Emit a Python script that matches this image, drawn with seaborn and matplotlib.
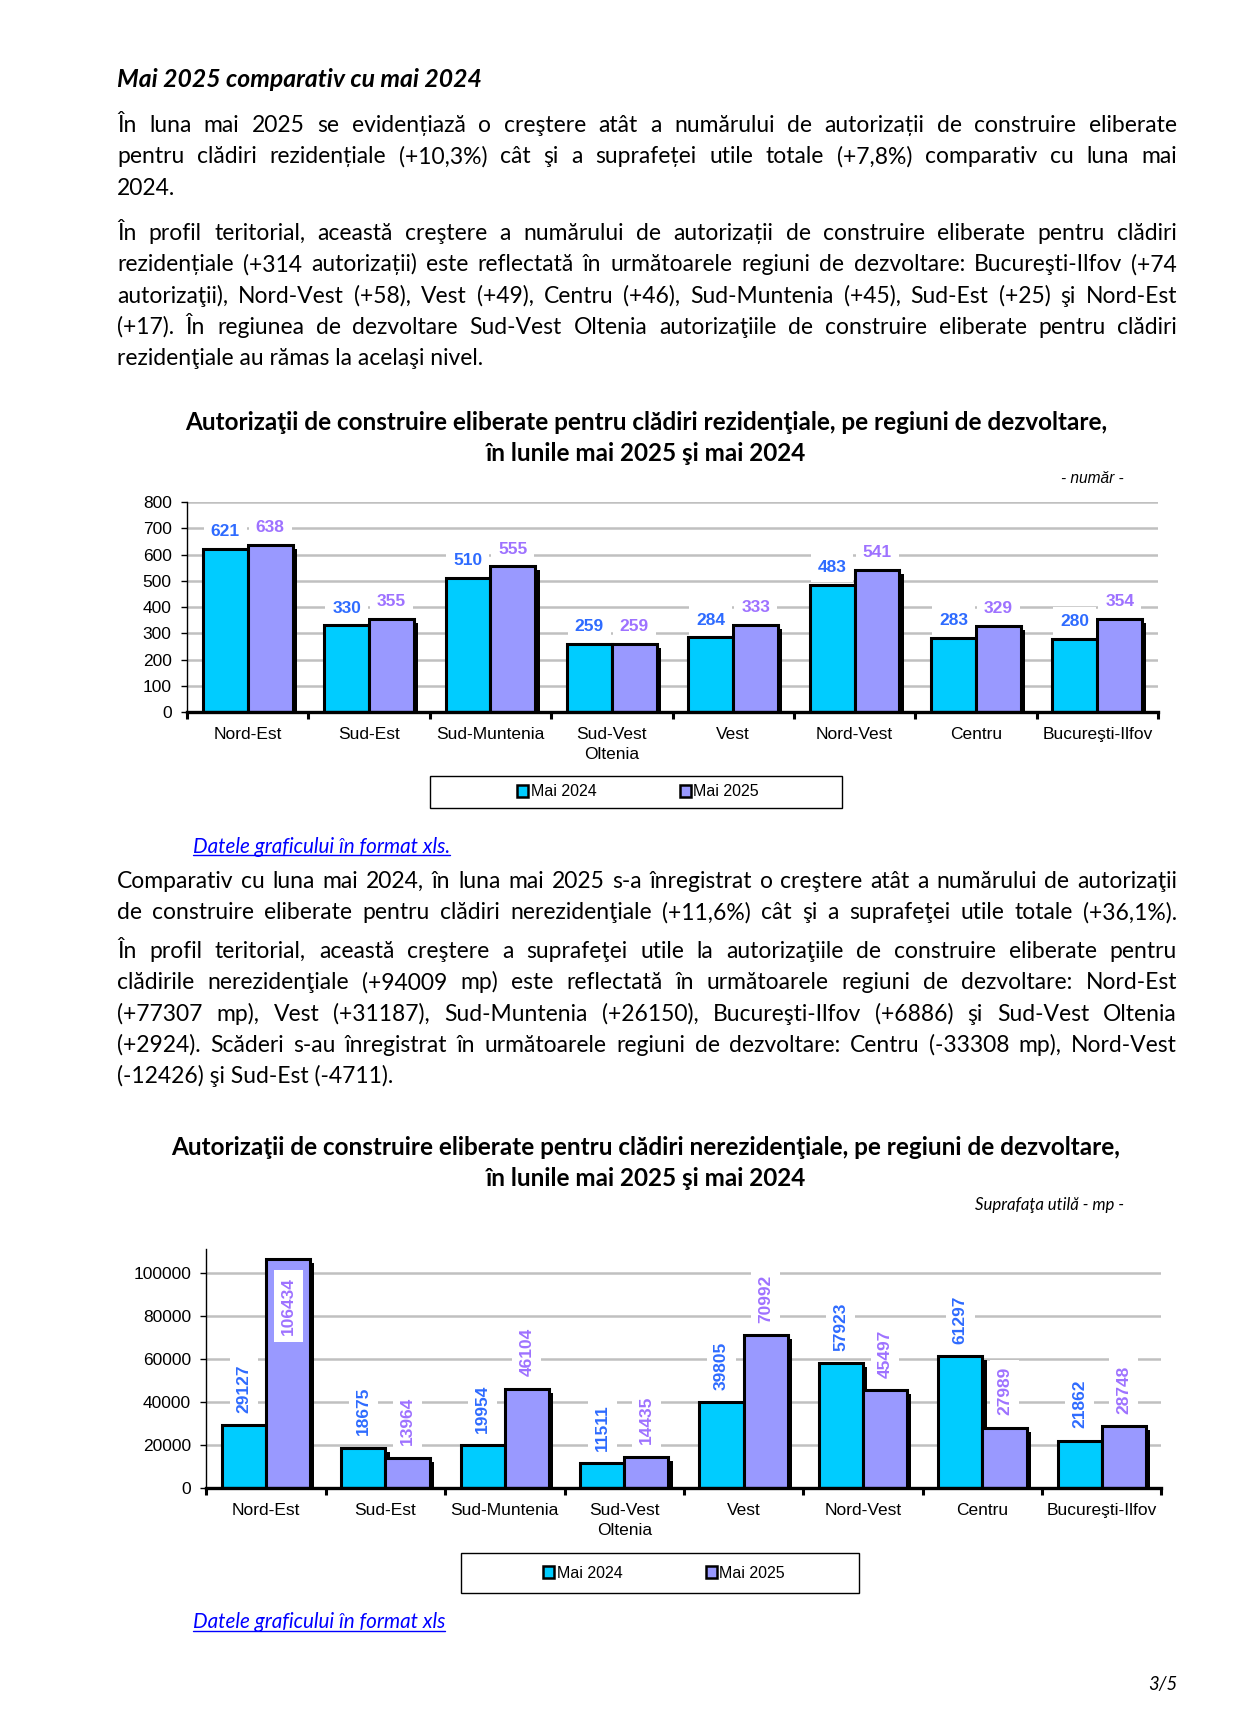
import numpy as np
import pandas as pd
import matplotlib
matplotlib.use("Agg")
import matplotlib.pyplot as plt
import matplotlib.patheffects as pe
from matplotlib.patches import Patch, Rectangle
from matplotlib.lines import Line2D
import seaborn as sns

# date grafice
regiuni = ["Nord-Est", "Sud-Est", "Sud-Muntenia", "Sud-Vest\nOltenia", "Vest",
           "Nord-Vest", "Centru", "Bucureşti-Ilfov"]
ani = ["Mai 2024", "Mai 2025"]
rez_2024 = [621, 330, 510, 259, 284, 483, 283, 280]
rez_2025 = [638, 355, 555, 259, 333, 541, 329, 354]
nerez_2024 = [29127, 18675, 19954, 11511, 39805, 57923, 61297, 21862]
nerez_2025 = [106434, 13964, 46104, 14435, 70992, 45497, 27989, 28748]

culori = ["#00CCFF", "#9999FF"]
culori_etichete = ["#2E6BFF", "#9E72FF"]

# text pagina
heading = "Mai 2025 comparativ cu mai 2024"
para1 = ["În luna mai 2025 se evidențiază o creştere atât a numărului de autorizații de construire eliberate",
         "pentru clădiri rezidențiale (+10,3%) cât şi a suprafeței utile totale (+7,8%)  comparativ cu luna mai",
         "2024."]
para2 = ["În  profil teritorial, această creştere a numărului de autorizații de construire eliberate pentru clădiri",
         "rezidențiale (+314 autorizații) este reflectată în următoarele regiuni de dezvoltare: Bucureşti-Ilfov (+74",
         "autorizaţii), Nord-Vest (+58), Vest (+49), Centru (+46), Sud-Muntenia (+45), Sud-Est (+25) şi Nord-Est",
         "(+17). În regiunea de dezvoltare Sud-Vest Oltenia autorizaţiile de construire eliberate pentru clădiri",
         "rezidenţiale au rămas la acelaşi nivel."]
para3 = ["Comparativ cu luna mai 2024, în luna mai 2025 s-a înregistrat o creştere atât a numărului de autorizaţii",
         "de construire eliberate pentru clădiri nerezidenţiale (+11,6%) cât şi a suprafeţei utile totale (+36,1%)."]
para4 = ["În profil teritorial, această creştere a suprafeţei utile la autorizaţiile de construire eliberate pentru",
         "clădirile nerezidenţiale (+94009 mp) este reflectată în următoarele regiuni de dezvoltare: Nord-Est",
         "(+77307 mp), Vest (+31187), Sud-Muntenia (+26150), Bucureşti-Ilfov (+6886) şi Sud-Vest Oltenia",
         "(+2924). Scăderi s-au înregistrat în următoarele regiuni de dezvoltare: Centru (-33308 mp), Nord-Vest",
         "(-12426) şi Sud-Est (-4711)."]
titlu1 = ["Autorizaţii de construire eliberate pentru clădiri rezidenţiale, pe regiuni de dezvoltare,",
          "în lunile mai 2025 şi mai 2024"]
titlu2 = ["Autorizaţii de construire eliberate pentru clădiri nerezidenţiale, pe regiuni de dezvoltare,",
          "în lunile mai 2025 şi mai 2024"]
link = "Datele graficului în format xls"

W, H = 1260, 1718
sns.set_style("white")
plt.rcParams["font.family"] = ["Liberation Sans", "DejaVu Sans"]
plt.rcParams["text.color"] = "black"
plt.rcParams["xtick.color"] = "black"
plt.rcParams["ytick.color"] = "black"
BODY = ["Lato", "DejaVu Sans"]
CHART_FS = 12.5

fig = plt.figure(figsize=(W / 100, H / 100), dpi=100)
fig.patch.set_facecolor("white")
renderer = fig.canvas.get_renderer()


def fx(x):
    return x / W


def fy(y):
    return 1 - y / H


def width_px(s, **kw):
    t = fig.text(0, 0, s, **kw)
    w = t.get_window_extent(renderer).width
    t.remove()
    return w


def fit_size(s, target, **kw):
    return 10 * target / width_px(s, fontsize=10, **kw)


LEFT, RIGHT = 117, 1177
LW = RIGHT - LEFT


def draw_line(y, text, fs, justify):
    if not justify:
        fig.text(fx(LEFT), fy(y), text, fontsize=fs, family=BODY, va="baseline", ha="left")
        return
    words = text.split()
    ws = [width_px(w, fontsize=fs, family=BODY) for w in words]
    gap = (LW - sum(ws)) / (len(words) - 1)
    x = LEFT
    for w, wd in zip(words, ws):
        fig.text(fx(x), fy(y), w, fontsize=fs, family=BODY, va="baseline", ha="left")
        x += wd + gap


# marime font corp text (sa incapa liniile justificate)
justified = para1[:2] + para2[:4] + para3 + para4[:4]
body_fs = min(min(fit_size(l, LW, family=BODY) for l in justified) * 0.99, 16.5)

hs = fit_size(heading, 364, family=BODY, fontweight="bold", style="italic")
fig.text(fx(LEFT), fy(87), heading, fontsize=hs, family=BODY, fontweight="bold",
         style="italic", va="baseline")

for lines, base in [(para1, 132), (para2, 240), (para3, 888), (para4, 958)]:
    for i, l in enumerate(lines):
        last = (i == len(lines) - 1) and lines is not para3
        draw_line(base + i * 31.3, l, body_fs, not last)


def chart_title(lines, y0, target):
    ts = fit_size(lines[0], target, family=BODY, fontweight="bold")
    for i, l in enumerate(lines):
        fig.text(fx(646), fy(y0 + i * 31), l, fontsize=ts, family=BODY,
                 fontweight="bold", ha="center", va="baseline")


chart_title(titlu1, 430, 924)
chart_title(titlu2, 1155, 950)

us = fit_size("- număr -", 63, style="italic")
fig.text(fx(1124), fy(483), "- număr -", fontsize=us, style="italic", ha="right", va="baseline")
us2 = fit_size("Suprafaţa utilă - mp -", 149, family=BODY, style="italic")
fig.text(fx(1124), fy(1210), "Suprafaţa utilă - mp -", fontsize=us2, family=BODY,
         style="italic", ha="right", va="baseline")


def draw_chart(rect, v24, v25, ymax, ticks, rotated):
    ax = fig.add_axes(rect)
    df = pd.DataFrame({"regiune": regiuni * 2,
                       "an": [ani[0]] * 8 + [ani[1]] * 8,
                       "valoare": v24 + v25})
    sns.barplot(data=df, x="regiune", y="valoare", hue="an", order=regiuni,
                hue_order=ani, palette=culori, saturation=1, width=0.74,
                edgecolor="black", linewidth=2.2, legend=False, errorbar=None, ax=ax)
    for p in ax.patches:
        p.set_path_effects([pe.SimplePatchShadow(offset=(3, -3), shadow_rgbFace="black", alpha=1.0),
                            pe.Normal()])
    ax.set_xlim(-0.5, 7.5)
    ax.set_ylim(0, ymax)
    ax.set_yticks(ticks)
    ax.yaxis.grid(True, color="#C0C0C0", lw=1.8)
    ax.xaxis.grid(False)
    ax.set_axisbelow(True)
    ax.set_xlabel("")
    ax.set_ylabel("")
    ax.spines["top"].set_visible(False)
    ax.spines["right"].set_visible(False)
    ax.spines["left"].set_linewidth(1.0)
    ax.spines["left"].set_color("black")
    ax.spines["bottom"].set_linewidth(2.4)
    ax.spines["bottom"].set_color("black")
    ax.set_xticks(np.arange(-0.5, 8, 1), minor=True)
    ax.tick_params(axis="x", which="major", length=0, pad=11, labelsize=CHART_FS, bottom=True)
    ax.tick_params(axis="x", which="minor", length=5, width=2.2, direction="out",
                   color="black", bottom=True)
    ax.tick_params(axis="y", length=4, width=1, pad=7, labelsize=CHART_FS, left=True, color="black")
    for lbl in ax.get_xticklabels():
        lbl.set_linespacing(1.4)
    box = dict(boxstyle="square,pad=0.4", fc="white", ec="none")
    for cont, col in zip(ax.containers, culori_etichete):
        for p in cont:
            v = p.get_height()
            xc = p.get_x() + p.get_width() / 2
            if not rotated:
                ax.annotate(f"{v:.0f}", (xc, v), xytext=(0, 7), textcoords="offset points",
                            ha="center", va="bottom", color=col, fontsize=CHART_FS,
                            fontweight="bold", bbox=box)
            elif v > 0.9 * ymax:
                ax.annotate(f"{v:.0f}", (xc, v), xytext=(0, -13), textcoords="offset points",
                            ha="center", va="top", rotation=90, color=col, fontsize=CHART_FS,
                            fontweight="bold", bbox=box)
            else:
                ax.annotate(f"{v:.0f}", (xc, v), xytext=(0, 9), textcoords="offset points",
                            ha="center", va="bottom", rotation=90, color=col, fontsize=CHART_FS,
                            fontweight="bold", bbox=box)
    return ax


draw_chart([fx(187), fy(712), 971 / W, 210 / H], rez_2024, rez_2025, 800,
           np.arange(0, 801, 100), False)
draw_chart([fx(206.4), fy(1488), 955 / W, 239 / H], nerez_2024, nerez_2025, 111000,
           np.arange(0, 100001, 20000), True)


def legend_box(x0, y0, x1, y1, cx, cy):
    fig.add_artist(Rectangle((fx(x0), fy(y1)), (x1 - x0) / W, (y1 - y0) / H,
                             transform=fig.transFigure, fill=False, ec="black", lw=1))
    handles = [Patch(fc=c, ec="black", lw=1.8) for c in culori]
    fig.legend(handles, ani, loc="center", bbox_to_anchor=(fx(cx), fy(cy)), ncol=2,
               frameon=False, fontsize=11.5, handlelength=0.7, handleheight=0.7,
               handletextpad=0.15, columnspacing=5.2)


legend_box(430, 776, 842, 808, 638, 792)
legend_box(461, 1553, 859, 1593, 664, 1573)


def draw_link(y, text, target):
    ls = fit_size(text, target, family=BODY, style="italic")
    t = fig.text(fx(193), fy(y), text, fontsize=ls, family=BODY, style="italic",
                 color="#0000FF", va="baseline")
    w = t.get_window_extent(renderer).width
    fig.add_artist(Line2D([fx(193), fx(193 + w)], [fy(y + 2.5), fy(y + 2.5)],
                          transform=fig.transFigure, color="#0000FF", lw=1))


draw_link(853, link + ".", 258)
draw_link(1628, link, 252)

ps = fit_size("3/5", 29, family=BODY, style="italic")
fig.text(fx(1177), fy(1690), "3/5", fontsize=ps, family=BODY, style="italic",
         ha="right", va="baseline")

fig.savefig("out.png", dpi=100)
